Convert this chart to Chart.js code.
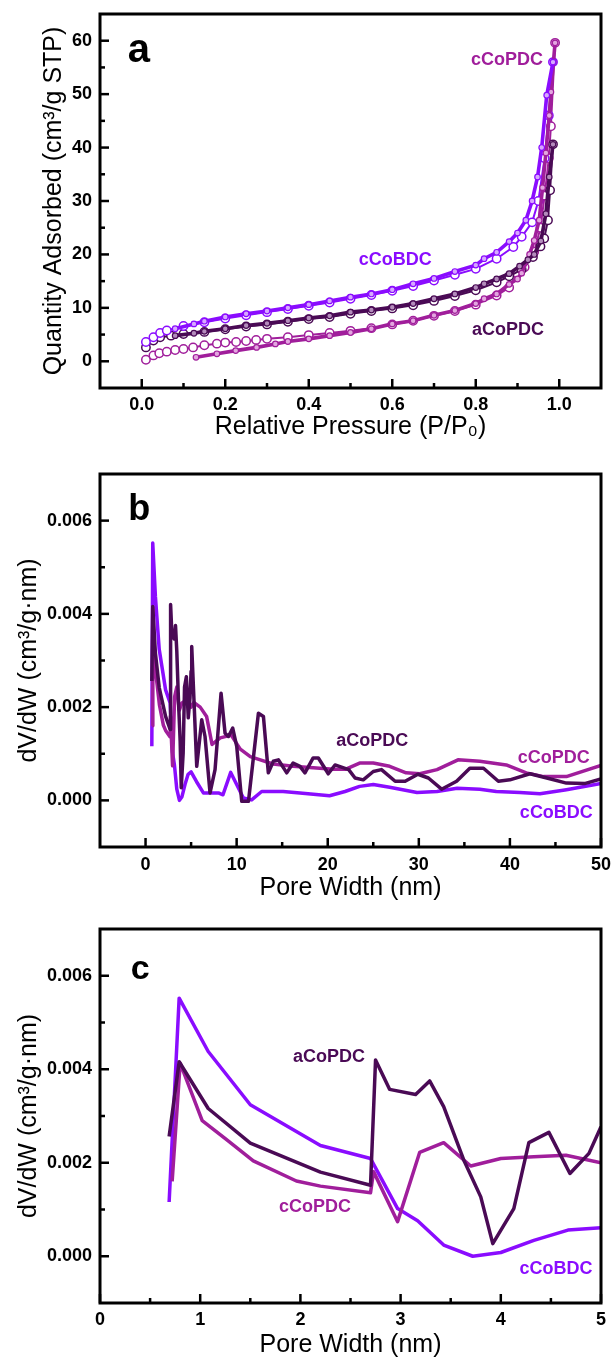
<!DOCTYPE html>
<html>
<head>
<meta charset="utf-8">
<script src="https://cdn.jsdelivr.net/npm/chart.js@4.4.1/dist/chart.umd.min.js"></script>
<style>
  html, body { margin: 0; padding: 0; background: #fff; }
  #wrap { position: relative; width: 612px; height: 1360px; }
  canvas { position: absolute; left: 0; }
</style>
</head>
<body>
<div id="wrap">
  <canvas id="isothermChart" width="612" height="453" style="top:0px"></canvas>
  <canvas id="poreWideChart" width="612" height="454" style="top:453px"></canvas>
  <canvas id="poreNarrowChart" width="612" height="453" style="top:907px"></canvas>
</div>
<script>
// ---------- data: N2 isotherms (panel a) ----------
const cCoBDC_adsX = [0.01, 0.028, 0.044, 0.06, 0.1, 0.15, 0.2, 0.25, 0.3, 0.35, 0.4, 0.45, 0.5, 0.55, 0.6, 0.65, 0.7, 0.75, 0.8, 0.85, 0.89, 0.91, 0.935, 0.95, 0.965, 0.975, 0.985];
const cCoBDC_adsY = [3.6, 4.5, 5.3, 5.75, 6.6, 7.3, 8.0, 8.6, 9.2, 9.8, 10.4, 11.0, 11.7, 12.4, 13.2, 14.1, 15.1, 16.2, 17.3, 19.2, 21.4, 23.3, 26.0, 30.0, 38.0, 46.0, 56.0];
const cCoBDC_desX = [0.985, 0.97, 0.958, 0.948, 0.935, 0.92, 0.9, 0.88, 0.85, 0.82, 0.8, 0.75, 0.7, 0.65, 0.6, 0.55, 0.5, 0.45, 0.4, 0.35, 0.3, 0.25, 0.2, 0.15, 0.125, 0.08];
const cCoBDC_desY = [56.0, 49.8, 40.0, 34.5, 30.0, 26.4, 24.0, 22.4, 20.4, 19.2, 18.0, 16.8, 15.5, 14.5, 13.4, 12.6, 12.0, 11.3, 10.6, 10.0, 9.4, 8.9, 8.3, 7.5, 7.0, 6.1];

const aCoPDC_adsX = [0.01, 0.028, 0.044, 0.07, 0.1, 0.15, 0.2, 0.25, 0.3, 0.35, 0.4, 0.45, 0.5, 0.55, 0.6, 0.65, 0.7, 0.75, 0.8, 0.85, 0.88, 0.91, 0.937, 0.955, 0.964, 0.973, 0.978, 0.985];
const aCoPDC_adsY = [2.6, 3.9, 4.5, 4.8, 5.1, 5.5, 6.0, 6.5, 6.9, 7.4, 7.9, 8.3, 8.9, 9.4, 9.9, 10.5, 11.3, 12.2, 13.3, 14.8, 15.9, 17.2, 19.5, 21.5, 23.0, 26.4, 32.0, 40.6];
const aCoPDC_desX = [0.985, 0.976, 0.968, 0.956, 0.94, 0.925, 0.905, 0.88, 0.85, 0.82, 0.8, 0.75, 0.7, 0.65, 0.6, 0.55, 0.5, 0.45, 0.4, 0.35, 0.3, 0.25, 0.2, 0.15, 0.125, 0.08];
const aCoPDC_desY = [40.6, 34.5, 27.6, 22.5, 20.0, 19.0, 17.8, 16.4, 15.4, 14.5, 13.8, 12.6, 11.7, 10.8, 10.1, 9.6, 9.2, 8.5, 8.1, 7.6, 7.1, 6.7, 6.1, 5.6, 5.25, 4.8];

const cCoPDC_adsX = [0.01, 0.028, 0.042, 0.06, 0.08, 0.1, 0.123, 0.15, 0.18, 0.2, 0.226, 0.25, 0.274, 0.3, 0.35, 0.4, 0.45, 0.5, 0.55, 0.6, 0.65, 0.7, 0.75, 0.8, 0.85, 0.88, 0.9, 0.917, 0.94, 0.955, 0.965, 0.975, 0.98, 0.99];
const cCoPDC_adsY = [0.3, 1.1, 1.5, 1.8, 2.1, 2.3, 2.6, 3.0, 3.3, 3.5, 3.6, 3.8, 4.0, 4.2, 4.5, 4.9, 5.3, 5.7, 6.2, 6.9, 7.6, 8.5, 9.4, 10.6, 12.3, 13.8, 16.4, 17.6, 20.5, 25.0, 31.0, 38.0, 44.0, 59.6];
const cCoPDC_desX = [0.99, 0.986, 0.98, 0.976, 0.968, 0.96, 0.952, 0.94, 0.929, 0.91, 0.9, 0.88, 0.85, 0.82, 0.8, 0.75, 0.7, 0.65, 0.6, 0.55, 0.5, 0.45, 0.4, 0.35, 0.32, 0.275, 0.225, 0.18, 0.13];
const cCoPDC_desY = [59.6, 56.0, 50.4, 46.0, 39.0, 32.5, 26.4, 22.6, 20.0, 16.5, 15.4, 14.4, 12.6, 11.7, 10.8, 9.5, 8.6, 7.6, 7.0, 6.1, 5.4, 4.8, 4.2, 3.7, 3.25, 2.6, 2.0, 1.4, 0.75];

// ---------- data: pore size distributions (panels b and c) ----------
const cCoBDC_poreW = [0.69, 0.79, 1.08, 1.5, 2.2, 2.7, 2.97, 3.17, 3.43, 3.72, 4.0, 4.33, 4.67, 5.0, 5.6, 6.35, 8.0, 8.5, 9.35, 10.74, 11.65, 12.75, 15.1, 16.95, 20.2, 21.9, 23.5, 25.0, 26.8, 29.8, 32.0, 34.2, 36.7, 38.5, 41.1, 43.3, 46.2, 50.0];
const cCoBDC_dVdW = [0.00116, 0.00552, 0.00438, 0.00324, 0.00237, 0.00209, 0.00102, 0.00076, 0.00024, 0.0, 0.00008, 0.00034, 0.00056, 0.00061, 0.0004, 0.00016, 0.00016, 0.00012, 0.0006, 0.00005, 0.00001, 0.00019, 0.00019, 0.00016, 0.0001, 0.00019, 0.0003, 0.00034, 0.00028, 0.00017, 0.00019, 0.00026, 0.00024, 0.00019, 0.00017, 0.00014, 0.00023, 0.00036];

const aCoPDC_poreW = [0.69, 0.79, 1.08, 1.5, 2.2, 2.7, 2.75, 2.89, 3.15, 3.29, 3.43, 3.63, 3.8, 3.92, 4.13, 4.28, 4.48, 4.69, 4.88, 5.0, 5.07, 5.62, 6.17, 6.53, 7.08, 7.63, 8.29, 8.73, 9.1, 9.57, 10.01, 10.56, 11.3, 12.39, 12.94, 13.48, 14.03, 14.58, 15.5, 16.2, 16.95, 17.5, 18.4, 18.97, 20.06, 20.8, 22.3, 23.0, 23.9, 25.0, 25.9, 27.4, 28.5, 29.9, 31.05, 32.5, 34.15, 35.6, 37.1, 38.73, 40.0, 42.2, 44.05, 46.2, 48.2, 50.0];
const aCoPDC_dVdW = [0.00256, 0.00416, 0.00316, 0.00242, 0.0018, 0.00152, 0.0042, 0.00357, 0.00346, 0.00375, 0.0032, 0.00206, 0.00127, 0.00027, 0.00102, 0.00243, 0.00265, 0.00177, 0.0022, 0.00277, 0.0033, 0.00073, 0.00173, 0.00137, 0.00016, 0.00066, 0.0023, 0.00144, 0.00137, 0.00155, 0.00116, -0.00002, -0.00002, 0.00187, 0.0018, 0.00059, 0.00084, 0.00087, 0.00059, 0.0008, 0.00073, 0.00059, 0.00091, 0.00091, 0.00057, 0.00076, 0.00066, 0.00048, 0.00044, 0.00062, 0.00066, 0.00041, 0.00041, 0.00056, 0.00048, 0.00024, 0.00041, 0.00069, 0.00069, 0.00041, 0.00044, 0.00057, 0.00048, 0.00037, 0.00036, 0.00046];

const cCoPDC_poreW = [0.72, 0.8, 1.02, 1.26, 1.53, 1.96, 2.2, 2.7, 2.73, 2.97, 3.19, 3.43, 3.7, 4.0, 4.33, 4.65, 5.0, 5.3, 6.0, 6.7, 7.3, 8.2, 9.4, 10.4, 11.5, 12.6, 14.0, 16.2, 18.4, 20.6, 22.0, 23.5, 25.0, 26.8, 28.6, 30.1, 32.0, 34.3, 36.7, 39.6, 41.8, 43.7, 46.2, 50.0];
const cCoPDC_dVdW = [0.0016, 0.00413, 0.0029, 0.0025, 0.00204, 0.00161, 0.0015, 0.00136, 0.00181, 0.00074, 0.00222, 0.00243, 0.00193, 0.00209, 0.00213, 0.00216, 0.002, 0.0021, 0.002, 0.0018, 0.0012, 0.00134, 0.0014, 0.0011, 0.00094, 0.00087, 0.00078, 0.00073, 0.0007, 0.00067, 0.00067, 0.0008, 0.0008, 0.00073, 0.00059, 0.00057, 0.00066, 0.00087, 0.00084, 0.00076, 0.00059, 0.00051, 0.00051, 0.00075];

// ---------- ticks ----------
const isoXTicks = [0, 0.2, 0.4, 0.6, 0.8, 1.0];
const isoXMinor = [0.1, 0.3, 0.5, 0.7, 0.9];
const isoYTicks = [0, 10, 20, 30, 40, 50, 60];
const isoYMinor = [5, 15, 25, 35, 45, 55];
const psdYTicks = [0, 0.002, 0.004, 0.006];
const psdYMinor = [0.001, 0.003, 0.005];
const wideXTicks = [0, 10, 20, 30, 40, 50];
const wideXMinor = [5, 15, 25, 35, 45];
const narrowXTicks = [0, 1, 2, 3, 4, 5];
const narrowXMinor = [0.5, 1.5, 2.5, 3.5, 4.5];

const FONT = "'Liberation Sans', Arial, 'DejaVu Sans', sans-serif";
const VIOLET = '#8a0cff';
const DARK = '#4a0a55';
const MAGENTA = '#a01e9b';

function toPoints(xs, ys) {
  return xs.map((x, i) => ({ x: x, y: ys[i] }));
}

// frame + inward tick marks, drawn from the chart's own scales
const frameTicks = {
  id: 'frameTicks',
  afterDatasetsDraw(chart, args, opts) {
    const { ctx, chartArea: a, scales: { x, y } } = chart;
    ctx.save();
    ctx.strokeStyle = '#000';
    ctx.lineWidth = 2.5;
    ctx.lineCap = 'butt';
    const vtick = (v, len) => {
      const px = x.getPixelForValue(v);
      ctx.beginPath(); ctx.moveTo(px, a.bottom); ctx.lineTo(px, a.bottom - len); ctx.stroke();
    };
    const htick = (v, len) => {
      const py = y.getPixelForValue(v);
      ctx.beginPath(); ctx.moveTo(a.left, py); ctx.lineTo(a.left + len, py); ctx.stroke();
    };
    opts.xMajor.forEach(v => vtick(v, 9));
    opts.xMinor.forEach(v => vtick(v, 5));
    opts.yMajor.forEach(v => htick(v, 9));
    opts.yMinor.forEach(v => htick(v, 5));
    ctx.lineWidth = 3;
    ctx.strokeRect(a.left, a.top, a.right - a.left, a.bottom - a.top);
    ctx.restore();
  }
};

// curve names and panel letter, anchored in data units
const curveLabels = {
  id: 'curveLabels',
  afterDraw(chart, args, opts) {
    const { ctx, scales: { x, y } } = chart;
    ctx.save();
    ctx.textAlign = 'center';
    ctx.textBaseline = 'middle';
    opts.items.forEach(it => {
      ctx.font = 'bold ' + it.size + 'px ' + FONT;
      ctx.fillStyle = it.color;
      ctx.fillText(it.text, x.getPixelForValue(it.x), y.getPixelForValue(it.y));
    });
    ctx.restore();
  }
};

function xAxis(min, max, ticks, digits, height, labelPad, titleText, titlePad) {
  return {
    type: 'linear', min: min, max: max,
    grid: { display: false, drawTicks: false },
    border: { display: false },
    afterBuildTicks: s => { s.ticks = ticks.map(v => ({ value: v })); },
    afterFit: s => { s.height = height; s.paddingLeft = 0; s.paddingRight = 0; },
    ticks: { autoSkip: false, maxRotation: 0, padding: labelPad, color: '#000',
      font: { family: FONT, size: 18, weight: 'bold' },
      callback: v => Number(v).toFixed(digits) },
    title: { display: true, text: titleText, color: '#000',
      font: { family: FONT, size: 25 }, padding: { top: 0, bottom: titlePad } }
  };
}

function yAxis(min, max, ticks, digits, titleText, titlePad) {
  return {
    type: 'linear', min: min, max: max,
    grid: { display: false, drawTicks: false },
    border: { display: false },
    afterBuildTicks: s => { s.ticks = ticks.map(v => ({ value: v })); },
    afterFit: s => { s.width = 100; s.paddingTop = 0; s.paddingBottom = 0; },
    ticks: { autoSkip: false, padding: 8, color: '#000',
      font: { family: FONT, size: 18, weight: 'bold' },
      callback: v => Number(v).toFixed(digits) },
    title: { display: true, text: titleText, color: '#000',
      font: { family: FONT, size: 25 }, padding: { top: titlePad, bottom: 0 } }
  };
}

function openBranch(label, xs, ys, color) {
  return { label: label, data: toPoints(xs, ys), borderColor: color, borderWidth: 2,
    pointRadius: 4.2, pointBackgroundColor: '#fff', pointBorderColor: color, pointBorderWidth: 1.5, tension: 0 };
}
function filledBranch(label, xs, ys, color, light) {
  return { label: label, data: toPoints(xs, ys), borderColor: color, borderWidth: 3.6,
    pointRadius: 2.8, pointBackgroundColor: light, pointBorderColor: color, pointBorderWidth: 1.2, tension: 0 };
}
function psdLine(label, xs, ys, color) {
  return { label: label, data: toPoints(xs, ys), borderColor: color, borderWidth: 3.5,
    pointRadius: 0, tension: 0, borderJoinStyle: 'round' };
}

const common = {
  responsive: false,
  animation: false,
  events: [],
  plugins: { legend: { display: false }, tooltip: { enabled: false } }
};

// ---------- a: isotherms ----------
new Chart(document.getElementById('isothermChart'), {
  type: 'line',
  data: {
    datasets: [
      filledBranch('cCoBDC des', cCoBDC_desX, cCoBDC_desY, VIOLET, '#d7a8ff'),
      filledBranch('aCoPDC des', aCoPDC_desX, aCoPDC_desY, DARK, '#b48cbc'),
      filledBranch('cCoPDC des', cCoPDC_desX, cCoPDC_desY, MAGENTA, '#e3a6e0'),
      openBranch('cCoBDC ads', cCoBDC_adsX, cCoBDC_adsY, VIOLET),
      openBranch('aCoPDC ads', aCoPDC_adsX, aCoPDC_adsY, DARK),
      openBranch('cCoPDC ads', cCoPDC_adsX, cCoPDC_adsY, MAGENTA)
    ]
  },
  options: Object.assign({}, common, {
    layout: { autoPadding: false, padding: { left: 0, right: 11, top: 14, bottom: 0 } },
    scales: {
      x: xAxis(-0.1, 1.1, isoXTicks, 1, 65, 6, 'Relative Pressure (P/P\u2080)', 11),
      y: yAxis(-5, 65, isoYTicks, 0, 'Quantity Adsorbed (cm\u00b3/g STP)', 39)
    },
    plugins: Object.assign({}, common.plugins, {
      frameTicks: { xMajor: isoXTicks, xMinor: isoXMinor, yMajor: isoYTicks, yMinor: isoYMinor },
      curveLabels: { items: [
        { text: 'a', x: -0.007, y: 58.1, size: 40, color: '#000' },
        { text: 'cCoPDC', x: 0.875, y: 56.4, size: 18, color: MAGENTA },
        { text: 'cCoBDC', x: 0.607, y: 18.96, size: 18, color: VIOLET },
        { text: 'aCoPDC', x: 0.877, y: 5.86, size: 18, color: DARK }
      ] }
    })
  }),
  plugins: [frameTicks, curveLabels]
});

// ---------- b: pore size 0-50 nm ----------
new Chart(document.getElementById('poreWideChart'), {
  type: 'line',
  data: {
    datasets: [
      psdLine('aCoPDC', aCoPDC_poreW, aCoPDC_dVdW, DARK),
      psdLine('cCoPDC', cCoPDC_poreW, cCoPDC_dVdW, MAGENTA),
      psdLine('cCoBDC', cCoBDC_poreW, cCoBDC_dVdW, VIOLET)
    ]
  },
  options: Object.assign({}, common, {
    layout: { autoPadding: false, padding: { left: 0, right: 11, top: 21, bottom: 0 } },
    scales: {
      x: xAxis(-5, 50, wideXTicks, 0, 60, 7, 'Pore Width (nm)', 4),
      y: yAxis(-0.001, 0.007, psdYTicks, 3, 'dV/dW (cm\u00b3/g\u00b7nm)', 14)
    },
    plugins: Object.assign({}, common.plugins, {
      frameTicks: { xMajor: wideXTicks, xMinor: wideXMinor, yMajor: psdYTicks, yMinor: psdYMinor },
      curveLabels: { items: [
        { text: 'b', x: -0.7, y: 0.00623, size: 36, color: '#000' },
        { text: 'aCoPDC', x: 24.9, y: 0.00127, size: 18, color: DARK },
        { text: 'cCoPDC', x: 44.8, y: 0.00091, size: 18, color: MAGENTA },
        { text: 'cCoBDC', x: 45.1, y: -0.00027, size: 18, color: VIOLET }
      ] }
    })
  }),
  plugins: [frameTicks, curveLabels]
});

// ---------- c: pore size 0-5 nm ----------
new Chart(document.getElementById('poreNarrowChart'), {
  type: 'line',
  data: {
    datasets: [
      psdLine('aCoPDC', aCoPDC_poreW, aCoPDC_dVdW, DARK),
      psdLine('cCoPDC', cCoPDC_poreW, cCoPDC_dVdW, MAGENTA),
      psdLine('cCoBDC', cCoBDC_poreW, cCoBDC_dVdW, VIOLET)
    ]
  },
  options: Object.assign({}, common, {
    layout: { autoPadding: false, padding: { left: 0, right: 11, top: 22, bottom: 0 } },
    scales: {
      x: xAxis(0, 5, narrowXTicks, 0, 57, 6, 'Pore Width (nm)', 0),
      y: yAxis(-0.001, 0.007, psdYTicks, 3, 'dV/dW (cm\u00b3/g\u00b7nm)', 14)
    },
    plugins: Object.assign({}, common.plugins, {
      frameTicks: { xMajor: narrowXTicks, xMinor: narrowXMinor, yMajor: psdYTicks, yMinor: psdYMinor },
      curveLabels: { items: [
        { text: 'c', x: 0.40, y: 0.00613, size: 34, color: '#000' },
        { text: 'aCoPDC', x: 2.285, y: 0.00426, size: 18, color: DARK },
        { text: 'cCoPDC', x: 2.146, y: 0.00105, size: 18, color: MAGENTA },
        { text: 'cCoBDC', x: 4.55, y: -0.00028, size: 18, color: VIOLET }
      ] }
    })
  }),
  plugins: [frameTicks, curveLabels]
});
</script>
</body>
</html>
